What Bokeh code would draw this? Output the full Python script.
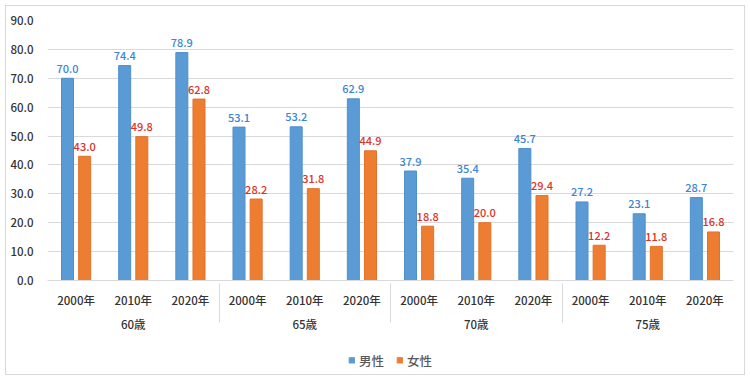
from bokeh.plotting import figure
from bokeh.models import (FactorRange, ColumnDataSource, Legend, LegendItem,
                          FixedTicker, CustomJSTickFormatter)
from bokeh.layouts import column
from bokeh.transform import dodge
from bokeh.core.properties import value
from bokeh.embed import file_html
from bokeh.resources import INLINE

ages = ["60歳", "65歳", "70歳", "75歳"]
years = ["2000年", "2010年", "2020年"]
male = [70.0, 74.4, 78.9, 53.1, 53.2, 62.9, 37.9, 35.4, 45.7, 27.2, 23.1, 28.7]
female = [43.0, 49.8, 62.8, 28.2, 31.8, 44.9, 18.8, 20.0, 29.4, 12.2, 11.8, 16.8]
y_ticks = [0, 10, 20, 30, 40, 50, 60, 70, 80, 90]
series = ["男性", "女性"]

FONT = "'Noto Sans CJK JP Medium', 'Noto Sans CJK JP'"
BLUE = "#5b9bd5"
ORANGE = "#ed7d31"
TXT = "#333333"

factors = [(a, y) for a in ages for y in years]
src = ColumnDataSource(dict(
    x=factors,
    male=male,
    female=female,
    male_txt=[f"{v:.1f}" for v in male],
    female_txt=[f"{v:.1f}" for v in female],
))

p = figure(width=738, height=339, output_backend="svg", toolbar_location=None,
           x_range=FactorRange(*factors, group_padding=0, range_padding=0),
           y_range=(0, 90),
           min_border_left=41, min_border_right=11, min_border_top=14,
           min_border_bottom=65)
p.outline_line_color = None
p.border_fill_color = "white"
p.background_fill_color = "white"

off = 0.15
w = 0.21
r1 = p.vbar(x=dodge("x", -off, range=p.x_range), top="male", width=w, source=src,
            fill_color=BLUE, line_color="#4f8fcc")
r2 = p.vbar(x=dodge("x", off, range=p.x_range), top="female", width=w, source=src,
            fill_color=ORANGE, line_color="#e2722a")

p.text(x=dodge("x", -off, range=p.x_range), y="male", text="male_txt", source=src,
       text_align="center", text_baseline="alphabetic", y_offset=-10,
       text_font=value(FONT), text_font_size="11px", text_color="#3a86d4")
p.text(x=dodge("x", off, range=p.x_range), y="female", text="female_txt", source=src,
       text_align="center", text_baseline="alphabetic", y_offset=-10,
       text_font=value(FONT), text_font_size="11px", text_color="#dc3228")

# y axis
p.yaxis.ticker = FixedTicker(ticks=y_ticks)
p.yaxis.formatter = CustomJSTickFormatter(code="return tick.toFixed(1);")
p.yaxis.axis_line_color = None
p.yaxis.major_tick_line_color = None
p.yaxis.minor_tick_line_color = None
p.yaxis.major_label_text_font = FONT
p.yaxis.major_label_text_font_size = "11.5px"
p.yaxis.major_label_text_color = TXT
p.yaxis.major_label_standoff = 8

p.ygrid.grid_line_color = "#d9d9d9"
p.xgrid.grid_line_color = None

# x axis
xa = p.xaxis[0]
xa.axis_line_color = "#d9d9d9"
xa.major_tick_line_color = None
xa.minor_tick_line_color = None
xa.major_label_text_font = FONT
xa.major_label_text_font_size = "11.5px"
xa.major_label_text_color = TXT
xa.major_label_standoff = 5
xa.group_text_font = FONT
xa.group_text_font_size = "11.5px"
xa.group_text_color = TXT
xa.group_text_font_style = "normal"
xa.separator_line_color = "#d9d9d9"
xa.separator_line_width = 1

# legend strip below the chart (its bars lie outside its visible y range)
lg = figure(width=738, height=29, output_backend="svg", toolbar_location=None,
            x_range=FactorRange(*factors, group_padding=0, range_padding=0),
            y_range=(1000, 1001), min_border=0)
lg.axis.visible = False
lg.grid.visible = False
lg.outline_line_color = None
lr1 = lg.vbar(x="x", top="male", width=w, source=src,
              fill_color=BLUE, line_color=BLUE)
lr2 = lg.vbar(x="x", top="female", width=w, source=src,
              fill_color=ORANGE, line_color=ORANGE)
legend = Legend(items=[LegendItem(label=series[0], renderers=[lr1]),
                       LegendItem(label=series[1], renderers=[lr2])],
                orientation="horizontal", location="center",
                label_text_font=FONT, label_text_font_size="12.5px",
                label_text_color="#595959",
                glyph_width=7, glyph_height=7, spacing=12,
                label_standoff=4,
                border_line_color=None, background_fill_alpha=0,
                padding=0, margin=0)
lg.add_layout(legend, "center")

layout = column(p, lg, spacing=0,
                styles={"margin": "5px", "border": "1px solid #d9d9d9"})

open("out.html", "w").write(file_html(layout, INLINE))
